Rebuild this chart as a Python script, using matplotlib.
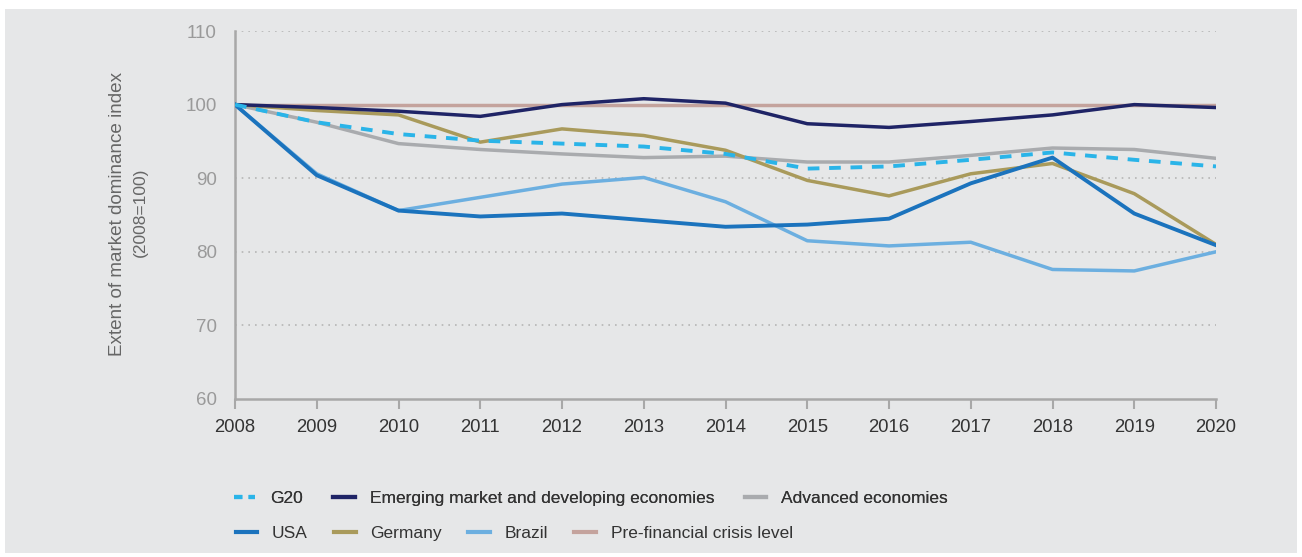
import matplotlib
matplotlib.use("Agg")
import matplotlib.pyplot as plt
from matplotlib.patches import Rectangle
from matplotlib.lines import Line2D

years = [2008, 2009, 2010, 2011, 2012, 2013, 2014, 2015, 2016, 2017, 2018, 2019, 2020]
g20 = [100, 97.6, 96.0, 95.1, 94.7, 94.3, 93.3, 91.3, 91.6, 92.5, 93.5, 92.5, 91.6]
emerging = [100, 99.6, 99.1, 98.4, 100.0, 100.8, 100.2, 97.4, 96.9, 97.7, 98.6, 100.0, 99.6]
advanced = [100, 97.6, 94.7, 93.9, 93.3, 92.8, 93.0, 92.2, 92.2, 93.1, 94.1, 93.9, 92.7]
usa = [100, 90.4, 85.6, 84.8, 85.2, 84.3, 83.4, 83.7, 84.5, 89.3, 92.8, 85.2, 80.9]
germany = [100, 99.2, 98.6, 94.9, 96.7, 95.8, 93.8, 89.7, 87.6, 90.6, 92.0, 87.9, 81.0]
brazil = [100, 90.6, 85.6, 87.4, 89.2, 90.1, 86.8, 81.5, 80.8, 81.3, 77.6, 77.4, 80.0]
pre_crisis = [100] * len(years)

ytick_vals = [60, 70, 80, 90, 100, 110]
ylabel_line1 = "Extent of market dominance index"
ylabel_line2 = "(2008=100)"

c_g20 = "#2ab4e8"
c_em = "#1f2466"
c_adv = "#a9abae"
c_usa = "#1b73bd"
c_ger = "#a99a5b"
c_bra = "#6cafe0"
c_pre = "#c4a39d"
bg = "#e6e7e8"

plt.rcParams["font.family"] = ["Liberation Sans", "DejaVu Sans"]

W, H = 1302, 557
fig = plt.figure(figsize=(W / 100, H / 100), dpi=100)
fig.patch.set_facecolor("white")
fig.add_artist(Rectangle((5 / W, 1 - 553 / H), (1297 - 5) / W, (553 - 9) / H,
                         transform=fig.transFigure, facecolor=bg, edgecolor="none", zorder=-10))

ax = fig.add_axes([235 / W, 1 - 399 / H, (1216 - 235) / W, (399 - 31) / H])
ax.set_facecolor(bg)

ax.plot(years, pre_crisis, color=c_pre, lw=2.5, zorder=2)
ax.plot(years, advanced, color=c_adv, lw=2.5, zorder=3)
ax.plot(years, brazil, color=c_bra, lw=2.5, zorder=3)
ax.plot(years, germany, color=c_ger, lw=2.5, zorder=4)
ax.plot(years, usa, color=c_usa, lw=2.8, zorder=5)
ax.plot(years, emerging, color=c_em, lw=2.5, zorder=6)
ax.plot(years, g20, color=c_g20, lw=2.8, ls=(0, (3, 2.5)), zorder=7)

ax.set_xlim(2008, 2020)
ax.set_ylim(60, 110)
ax.set_xticks(years)
ax.set_yticks(ytick_vals)
ax.set_xticklabels([str(y) for y in years], fontsize=13.3, color="#333333")
ax.set_yticklabels([str(v) for v in ytick_vals], fontsize=13.5, color="#9a9a9a")
ax.tick_params(axis="x", length=7.5, width=1.5, color="#a8a8a8", pad=7, direction="out")
ax.tick_params(axis="y", length=0, pad=13)

for v in [70, 80, 90, 100, 110]:
    ax.axhline(v, color="#b5b5b5", lw=1.2, ls=(0, (1, 3)), zorder=1)

for s in ["top", "right"]:
    ax.spines[s].set_visible(False)
for s in ["left", "bottom"]:
    ax.spines[s].set_color("#a8a8a8")
    ax.spines[s].set_linewidth(1.8)

fig.text(117.5 / W, 1 - 214 / H, ylabel_line1, rotation=90, ha="center", va="center",
         fontsize=13.6, color="#666666")
fig.text(140 / W, 1 - 212.5 / H, ylabel_line2, rotation=90, ha="center", va="center",
         fontsize=12.5, color="#666666")

# Legends
def h(color, ls="-"):
    return Line2D([0], [0], color=color, lw=3, ls=ls)

common = dict(frameon=False, fontsize=12.5, handlelength=1.25, handletextpad=0.85,
              labelcolor="#333333", loc="center left")
leg1 = fig.legend([h(c_g20, (0, (2, 1.5))), h(c_em), h(c_adv)],
                  ["G20", "Emerging market and developing economies", "Advanced economies"],
                  bbox_to_anchor=(218 / W, 1 - 498 / H), ncol=3, columnspacing=1.75, **common)
leg2 = fig.legend([h(c_usa), h(c_ger), h(c_bra), h(c_pre)],
                  ["USA", "Germany", "Brazil", "Pre-financial crisis level"],
                  bbox_to_anchor=(220 / W, 1 - 533 / H), ncol=4, columnspacing=1.5, **common)
fig.add_artist(leg1)

fig.savefig("out.png", dpi=100, facecolor=fig.get_facecolor())
